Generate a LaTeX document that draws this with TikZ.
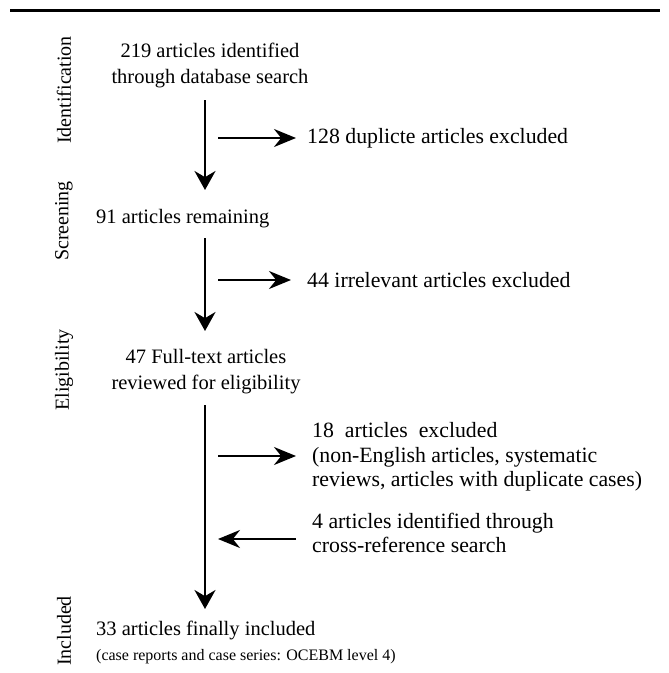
\documentclass[tikz,border=0pt]{standalone}
\usepackage{fontspec}
\setmainfont{Liberation Serif}
\usetikzlibrary{arrows.meta,positioning}

\tikzset{
  phase/.style={rotate=90,inner sep=0pt,font=\fontsize{20}{24}\selectfont},
  stage/.style={inner sep=0pt,align=center,font=\fontsize{20.5}{26}\selectfont},
  side/.style={inner sep=0pt,align=left,anchor=west,font=\fontsize{21.8}{24.5}\selectfont},
  flow/.style={line width=2.6pt,-{Stealth[length=19pt,width=21pt]}},
  sideflow/.style={line width=2pt,-{Stealth[length=22pt,width=18pt]}}
}

\begin{document}
\begin{tikzpicture}[x=1pt,y=-1pt]
    \useasboundingbox (0,0) rectangle (669,673);
    % top rule
    \draw[line width=3pt] (10,10) -- (660,10);

    % phases
    \node[phase] (ident) at (64,90) {Identification};
    \node[phase] (screen) at (64,221) {Screening};
    \node[phase] (elig) at (64,370) {Eligibility};
    \node[phase] (incl) at (64,631) {Included};

    % stages
    \node[stage] (found) at (210,65) {219 articles identified\\through database search};
    \node[stage,anchor=west] (remain) at (96,219) {91 articles remaining};
    \node[stage] (full) at (206,372) {47 Full-text articles\\reviewed for eligibility};
    \node[stage,anchor=west] (final) at (96,630) {33 articles finally included};
    \node[anchor=west,inner sep=0pt,font=\fontsize{16}{18}\selectfont]
      (note) at (96,657) {(case reports and case series: OCEBM level 4)};

    % side notes
    \node[side] (dup) at (307,138) {128 duplicte articles excluded};
    \node[side] (irr) at (307,280) {44 irrelevant articles excluded};
    \node[side] (excl) at (312,457) {18~ articles~ excluded\\(non-English articles, systematic\\reviews, articles with duplicate cases)};
    \node[side] (cross) at (312,533) {4 articles identified through\\cross-reference search};

    % spine
    \coordinate (a1) at (205,100);
    \coordinate (b1) at (205,190);
    \coordinate (a2) at (205,238);
    \coordinate (b2) at (205,331);
    \coordinate (a3) at (205,405);
    \coordinate (b3) at (205,609);
    \draw[flow] (a1) -- (b1);
    \draw[flow] (a2) -- (b2);
    \draw[flow] (a3) -- (b3);

    % branches
    \coordinate (s1) at (218,138);
    \coordinate (s2) at (218,280);
    \coordinate (s3) at (218,456);
    \coordinate (s4) at (218,539);
    \draw[sideflow,shorten >=11pt] (s1) -- (dup.west);
    \draw[sideflow,shorten >=16pt] (s2) -- (irr.west);
    \draw[sideflow] (s3) -- ++(78,0);
    \draw[sideflow] (s4 -| excl.west) ++(-16,0) -- (s4);
\end{tikzpicture}
\end{document}
